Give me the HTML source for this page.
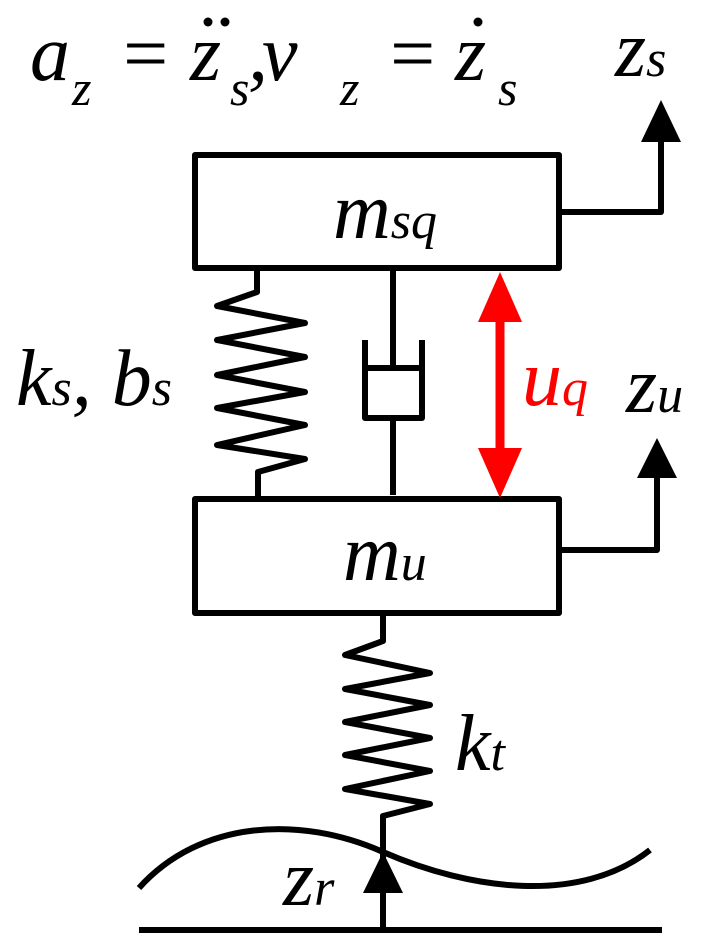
<!DOCTYPE html>
<html><head><style>
html,body{margin:0;padding:0;background:#fff;}
svg{display:block;}
text{font-family:"Liberation Serif",serif;font-style:italic;}
</style></head><body>
<svg width="702" height="950" viewBox="0 0 702 950" xmlns="http://www.w3.org/2000/svg">
<g fill="none" stroke="#000" stroke-width="6" stroke-linejoin="round">
<rect x="195" y="155" width="364" height="113"/>
<rect x="195" y="499" width="364" height="114"/>
<polyline points="559,212 661,212 661,140"/>
<polyline points="559,550 657,550 657,476"/>
<polyline points="257,268 257,292 217,306 305,323 217,340 305,357 217,375 305,392 217,408 305,425 217,445 305,459 258,472 258,499"/>
<line x1="393" y1="268" x2="393" y2="368"/>
<polyline points="365,340 365,418 422,418 422,340"/>
<line x1="365" y1="368" x2="422" y2="368"/>
<line x1="393" y1="418" x2="393" y2="495"/>
<polyline points="383,613 383,641 345,655 430,673 345,689 430,705 345,722 430,738 345,755 430,771 345,789 430,804 383,816 383,930"/>
<line x1="139" y1="930" x2="662" y2="930"/>
<path d="M139,888 C200,820 300,815 383,852 C470,890 580,905 650,850"/>
</g>
<polygon points="661,100 641,142 681,142" fill="#000"/>
<polygon points="657,438 637,478 677,478" fill="#000"/>
<polygon points="383,852 363,893 403,893" fill="#000"/>
<line x1="500" y1="310" x2="500" y2="460" stroke="#f00" stroke-width="9"/>
<polygon points="500,272 478,322 522,322" fill="#f00"/>
<polygon points="500,498 478,448 522,448" fill="#f00"/>
<circle cx="208" cy="22" r="4.5"/><circle cx="225" cy="22" r="4.5"/>
<circle cx="478" cy="22" r="4.5"/>
<g font-size="80">
<text x="30" y="80">a</text><text x="72" y="105" font-size="50">z</text>
<text x="118" y="80" font-style="normal">=</text>
<text x="190" y="80">z</text><text x="230" y="105" font-size="50">s</text>
<text x="248" y="80" font-style="normal">,</text>
<text x="262" y="80">v</text><text x="340" y="105" font-size="50">z</text>
<text x="385" y="80" font-style="normal">=</text>
<text x="455" y="80">z</text><text x="498" y="105" font-size="50">s</text>
<text x="615" y="76">z<tspan font-size="52">s</tspan></text>
<text x="333" y="238">m<tspan font-size="52">sq</tspan></text>
<text x="343" y="580">m<tspan font-size="52">u</tspan></text>
<text x="16" y="405">k<tspan font-size="52">s</tspan>, b<tspan font-size="52">s</tspan></text>
<text x="522" y="405" fill="#f00">u<tspan font-size="52">q</tspan></text>
<text x="626" y="412">z<tspan font-size="52">u</tspan></text>
<text x="455" y="770">k<tspan font-size="52">t</tspan></text>
<text x="283" y="905">z<tspan font-size="52">r</tspan></text>
</g>
</svg>
</body></html>
